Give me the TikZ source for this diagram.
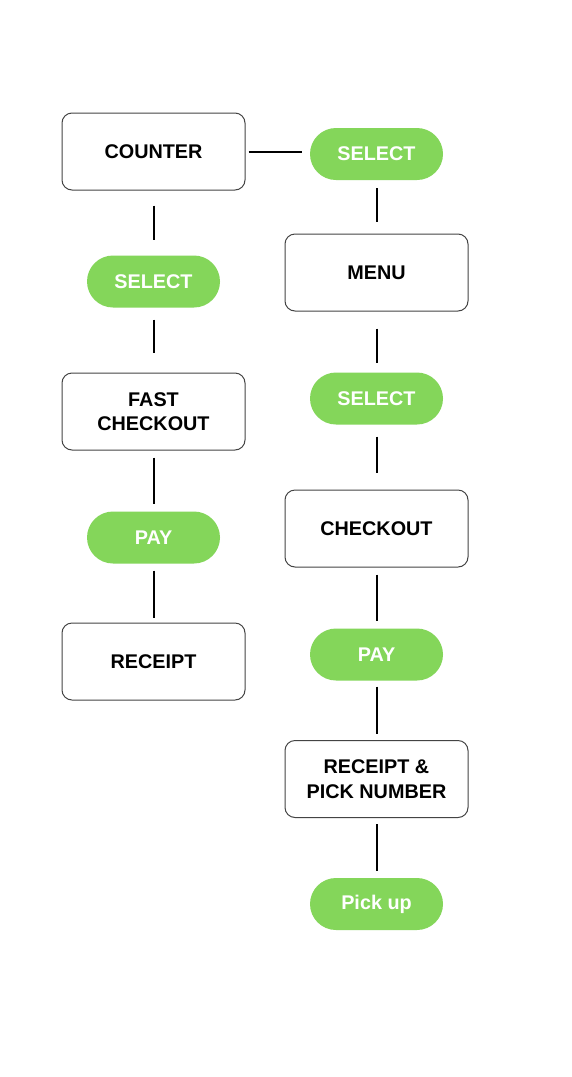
\documentclass[tikz,border=0pt]{standalone}
\usepackage{fontspec}
\setmainfont{Liberation Sans}
\definecolor{pill}{HTML}{84D65A}
\definecolor{boxline}{HTML}{444444}
\begin{document}
\begin{tikzpicture}[x=1pt,y=1pt,
  box/.style={draw=boxline,line width=1pt,rounded corners=10pt,minimum width=183pt,minimum height=77pt,inner sep=0pt,align=center,font=\fontsize{19.8}{24.5}\selectfont\bfseries},
  pillnode/.style={fill=pill,rounded corners=26pt,minimum width=133pt,minimum height=52pt,inner sep=0pt,text=white,font=\fontsize{19.8}{24.5}\selectfont\bfseries},
  conn/.style={line width=2pt,black}]
\useasboundingbox (0,0) rectangle (572,-1077);
\fill[white] (0,0) rectangle (572,-1077);
% left column
\node[box] (counter) at (153.5,-151.5) {COUNTER};
\node[pillnode] (selL) at (153.5,-281.5) {SELECT};
\node[box] (fast) at (153.5,-411.5) {FAST\\CHECKOUT};
\node[pillnode] (payL) at (153.5,-537.5) {PAY};
\node[box] (receiptL) at (153.5,-661.5) {RECEIPT};
% right column
\node[pillnode] (selR1) at (376.5,-154) {SELECT};
\node[box] (menu) at (376.5,-272.5) {MENU};
\node[pillnode] (selR2) at (376.5,-398.5) {SELECT};
\node[box] (checkout) at (376.5,-528.5) {CHECKOUT};
\node[pillnode] (payR) at (376.5,-654.5) {PAY};
\node[box] (receiptR) at (376.5,-779) {RECEIPT \&\\PICK NUMBER};
\node[pillnode] (pick) at (376.5,-904) {Pick up};
% connectors
\draw[conn,shorten <=3pt,shorten >=8pt] (counter.east) -- (selR1.west |- counter.east);
\draw[conn,shorten <=15pt,shorten >=15pt] (counter.south) -- (selL.north);
\draw[conn,shorten <=12pt,shorten >=20pt] (selL.south) -- (fast.north);
\draw[conn,shorten <=7pt,shorten >=7pt] (fast.south) -- (payL.north);
\draw[conn,shorten <=7pt,shorten >=5pt] (payL.south) -- (receiptL.north);
\draw[conn,shorten <=8pt,shorten >=12pt] (selR1.south) -- (menu.north);
\draw[conn,shorten <=17pt,shorten >=9pt] (menu.south) -- (selR2.north);
\draw[conn,shorten <=12pt,shorten >=17pt] (selR2.south) -- (checkout.north);
\draw[conn,shorten <=7pt,shorten >=7pt] (checkout.south) -- (payR.north);
\draw[conn,shorten <=6pt,shorten >=6pt] (payR.south) -- (receiptR.north);
\draw[conn,shorten <=6pt,shorten >=7pt] (receiptR.south) -- (pick.north);
\end{tikzpicture}
\end{document}
